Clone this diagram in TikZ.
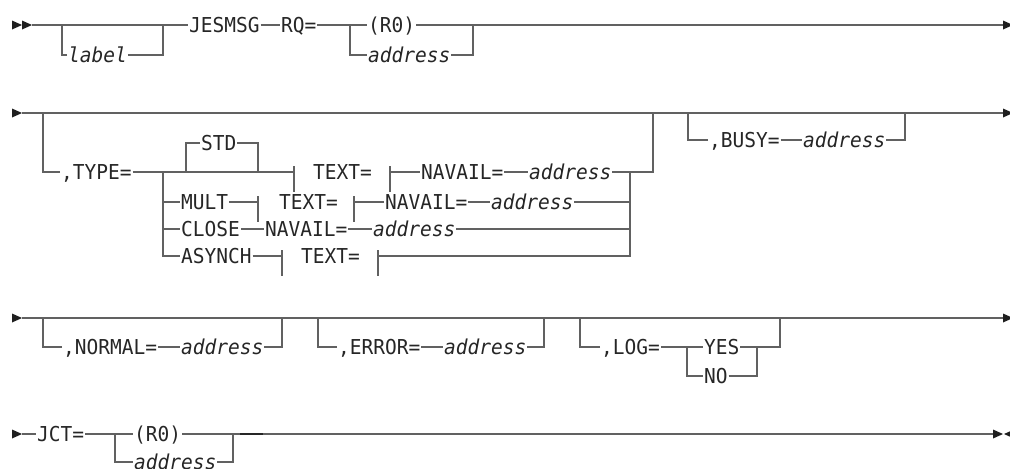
\documentclass[tikz,border=0pt]{standalone}
\usepackage{fontspec}
\setmonofont[FakeStretch=0.95]{DejaVu Sans Mono}
\tikzset{
  rail/.style={draw=black!62, line width=0.9pt},
  kw/.style={inner xsep=0.6pt, inner ysep=0pt, anchor=west, text height=11.2pt, text depth=0pt,
    font=\ttfamily\fontsize{15.4}{17}\selectfont, text=black!85},
  var/.style={kw, font=\ttfamily\itshape\fontsize{15.4}{17}\selectfont},
  tip/.style={fill=black!88},
}
% right and left pointing heads, tip at the given point
\newcommand{\railtip}[1]{\fill[tip] (#1) ++(-10,-4.5) -- ++(10,4.5) -- ++(-10,4.5) -- cycle;}
\newcommand{\railback}[1]{\fill[tip] (#1) ++(10,-4.5) -- ++(-10,4.5) -- ++(10,4.5) -- cycle;}
\newcommand{\fragbar}[1]{\draw[rail] (#1) ++(0,-6) -- ++(0,26);}
\begin{document}
\begin{tikzpicture}[x=0.75pt,y=-0.75pt]
  \useasboundingbox (0,0) rectangle (1010,468);
  % row 1
  \coordinate (start1) at (32,25);
  \coordinate (end1) at (1004,25);
  \node[kw] (jesmsg) at (188,25) {JESMSG};
  \node[kw] (rq) at (280,25) {RQ=};
  \node[kw] (rzero) at (367,25) {(R0)};
  \node[var] (label) at (67,55) {label};
  \node[var] (rqaddr) at (367,55) {address};
  \draw[rail] (start1) -- (jesmsg.west);
  \draw[rail] (jesmsg.east) -- (rq.west);
  \draw[rail] (rq.east) -- (rzero.west);
  \draw[rail] (rzero.east) -- (end1);
  \draw[rail] (label.west) -- ++(-5,0) -- ++(0,-30);
  \draw[rail] (label.east) -| (163,25);
  \draw[rail] (rqaddr.west) -- ++(-17,0) -- ++(0,-30);
  \draw[rail] (rqaddr.east) -| (473,25);
  \railtip{22,25} \railtip{32,25} \railtip{1013,25}
  % row 2
  \coordinate (start2) at (22,113);
  \coordinate (end2) at (1004,113);
  \coordinate (split) at (163,172);
  \coordinate (col) at (630,172);
  \draw[rail] (start2) -- (end2);
  \node[kw] (type) at (60,172) {,TYPE=};
  \draw[rail] (type.west) -- ++(-17,0) -- ++(0,-59);
  \draw[rail] (type.east) -- (split);
  \node[kw] (std) at (200,143) {STD};
  \draw[rail] (std.west) -- ++(-14,0) -- ++(0,29);
  \draw[rail] (std.east) -| (258,172);
  \coordinate (b1) at (294,172);
  \coordinate (b2) at (390,172);
  \node[kw] (text1) at (312,172) {TEXT=};
  \node[kw] (navail1) at (420,172) {NAVAIL=};
  \node[var] (addr1) at (528,172) {address};
  \draw[rail] (split) -- (b1);
  \draw[rail] (b2) -- (navail1.west);
  \draw[rail] (navail1.east) -- (addr1.west);
  \draw[rail] (addr1.east) -| (653,113);
  \node[kw] (mult) at (180,202) {MULT};
  \coordinate (b3) at (258,202);
  \node[kw] (text2) at (278,202) {TEXT=};
  \coordinate (b4) at (354,202);
  \node[kw] (navail2) at (384,202) {NAVAIL=};
  \node[var] (addr2) at (490,202) {address};
  \draw[rail] (split |- mult.west) -- (mult.west);
  \draw[rail] (mult.east) -- (b3);
  \draw[rail] (b4) -- (navail2.west);
  \draw[rail] (navail2.east) -- (addr2.west);
  \draw[rail] (addr2.east) -- (col |- addr2.east);
  \node[kw] (close) at (180,229) {CLOSE};
  \node[kw] (navail3) at (264,229) {NAVAIL=};
  \node[var] (addr3) at (372,229) {address};
  \draw[rail] (split |- close.west) -- (close.west);
  \draw[rail] (close.east) -- (navail3.west);
  \draw[rail] (navail3.east) -- (addr3.west);
  \draw[rail] (addr3.east) -- (col |- addr3.east);
  \node[kw] (asynch) at (180,256) {ASYNCH};
  \coordinate (b5) at (282,256);
  \node[kw] (text3) at (300,256) {TEXT=};
  \coordinate (b6) at (378,256);
  \draw[rail] (split) |- (asynch.west);
  \draw[rail] (asynch.east) -- (b5);
  \draw[rail] (b6) -| (col);
  \fragbar{b1} \fragbar{b2} \fragbar{b3} \fragbar{b4} \fragbar{b5} \fragbar{b6}
  \node[kw] (busy) at (708,140) {,BUSY=};
  \node[var] (addr4) at (802,140) {address};
  \draw[rail] (busy.west) -- ++(-20,0) -- ++(0,-27);
  \draw[rail] (busy.east) -- (addr4.west);
  \draw[rail] (addr4.east) -| (905,113);
  \railtip{22,113} \railtip{1013,113}
  % row 3
  \coordinate (start3) at (22,318);
  \coordinate (end3) at (1004,318);
  \draw[rail] (start3) -- (end3);
  \node[kw] (normal) at (62,347) {,NORMAL=};
  \node[var] (addr5) at (180,347) {address};
  \draw[rail] (normal.west) -- ++(-19,0) -- ++(0,-29);
  \draw[rail] (normal.east) -- (addr5.west);
  \draw[rail] (addr5.east) -| (282,318);
  \node[kw] (error) at (337,347) {,ERROR=};
  \node[var] (addr6) at (443,347) {address};
  \draw[rail] (error.west) -- ++(-19,0) -- ++(0,-29);
  \draw[rail] (error.east) -- (addr6.west);
  \draw[rail] (addr6.east) -| (544,318);
  \node[kw] (log) at (600,347) {,LOG=};
  \node[kw] (yes) at (703,347) {YES};
  \node[kw] (no) at (703,376) {NO};
  \draw[rail] (log.west) -- ++(-20,0) -- ++(0,-29);
  \draw[rail] (log.east) -- (yes.west);
  \draw[rail] (no.west) -- ++(-16,0) -- ++(0,-29);
  \draw[rail] (no.east) -| (757,347);
  \draw[rail] (yes.east) -| (780,318);
  \railtip{22,318} \railtip{1013,318}
  % row 4
  \coordinate (end4) at (1000,434);
  \node[kw] (jct) at (36,434) {JCT=};
  \node[kw] (rzero2) at (133,434) {(R0)};
  \node[var] (addr7) at (133,462) {address};
  \draw[rail] (22,434) -- (jct.west);
  \draw[rail] (jct.east) -- (rzero2.west);
  \draw[rail] (rzero2.east) -- (end4);
  \draw[rail] (addr7.west) -- ++(-18,0) -- ++(0,-28);
  \draw[rail] (addr7.east) -| (233,434);
  \draw[line width=1.5pt, black!85] (240,434) -- (263,434);
  \railtip{22,434} \railtip{1003,434} \railback{1004,434}
\end{tikzpicture}
\end{document}
